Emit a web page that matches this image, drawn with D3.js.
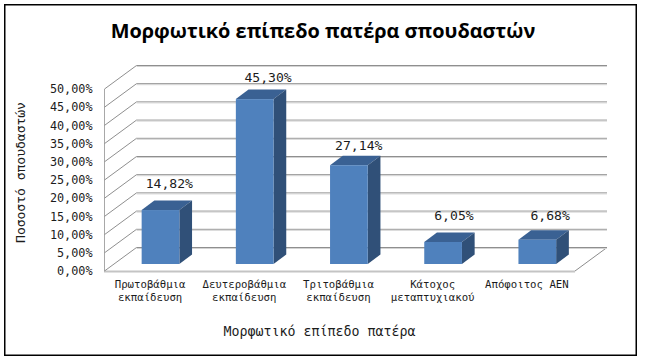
<!DOCTYPE html>
<html><head><meta charset="utf-8">
<script src="https://cdn.jsdelivr.net/npm/d3@7"></script>
<style>html,body{margin:0;padding:0;background:#fff}svg{display:block}
text{font-family:"DejaVu Sans Mono",monospace;fill:#1c1c1c}</style></head>
<body><div id="c"></div>
<script>
const categories=[["Πρωτοβάθμια","εκπαίδευση"],["Δευτεροβάθμια","εκπαίδευση"],["Τριτοβάθμια","εκπαίδευση"],["Κάτοχος","μεταπτυχιακού"],["Απόφοιτος ΑΕΝ"]];
const values=[14.82,45.30,27.14,6.05,6.68];
const valueLabels=["14,82%","45,30%","27,14%","6,05%","6,68%"];
const yTicks=[0,5,10,15,20,25,30,35,40,45,50];
const title="Μορφωτικό επίπεδο πατέρα σπουδαστών";
const xTitle="Μορφωτικό επίπεδο πατέρα";
const yTitle="Ποσοστό σπουδαστών";
// hand-placed label nudges seen in the reference
const labelNudgeX=[2.5,7,3.5,4.5,6.5];
const labelNudgeY=[-13,-8,-6,-12.5,-10.5];

const W=646,H=361;
const svg=d3.select("#c").append("svg").attr("width",W).attr("height",H);
svg.append("rect").attr("x",4.75).attr("y",4.75).attr("width",631.5).attr("height",350.5).attr("fill","#fff").attr("stroke","#000").attr("stroke-width",1.5);
svg.append("text").attr("x",323).attr("y",38).attr("text-anchor","middle")
  .style("font-family","'Open Sans'").style("font-weight",700).style("font-size","19.9px").style("fill","#000").text(title);

const y=d3.scaleLinear().domain([0,50]).range([271,89]);
const band=d3.scaleBand().domain(d3.range(categories.length)).range([104,575]);
const dx=32,dy=-23.5;
const g=svg.append("g");
g.append("line").attr("x1",104).attr("x2",575).attr("y1",y(0)+.5).attr("y2",y(0)+.5).attr("stroke","#c4c4c4").attr("stroke-width",2);
g.append("line").attr("x1",575).attr("x2",575+dx).attr("y1",y(0)).attr("y2",y(0)+dy).attr("stroke","#8c8c8c");
g.append("line").attr("x1",104.5).attr("x2",104.5).attr("y1",y(50)).attr("y2",y(0)).attr("stroke","#a8a8a8").attr("stroke-width",1);
g.selectAll(".grid").data(yTicks).join("path").attr("class","grid").attr("fill","none")
  .attr("d",t=>`M104.5,${y(t)}L${104.5+dx},${y(t)+dy}L${575+dx},${y(t)+dy}`).attr("stroke","#8f8f8f").attr("stroke-width",1);
g.selectAll(".gridS").data(yTicks).join("line").attr("class","gridS")
  .attr("x1",104.5+dx).attr("x2",575+dx).attr("y1",t=>y(t)+dy+1).attr("y2",t=>y(t)+dy+1).attr("stroke","#d4d4d4");
const ax=svg.append("g").attr("transform","translate(92.5,0)").call(d3.axisLeft(y).tickValues(yTicks).tickSize(0).tickPadding(0).tickFormat(d=>d3.format(".2f")(d).replace(".",",")+"%"));
ax.select(".domain").remove();
ax.selectAll("text").style("font-family","'DejaVu Sans Mono'").style("font-size","11.8px").style("fill","#1c1c1c");
const depthX=12.7,depthY=-9.5,offX=9.9,offY=-7;
const barW=37.7;
const bars=g.selectAll(".bar").data(values).join("g").attr("class","bar");
const bx=(d,i)=>band(i)+band.bandwidth()/2-barW/2+offX-.5;
const by=d=>y(d)+offY, by0=y(0)+offY;
bars.append("path").attr("fill","#3a6193").attr("d",(d,i)=>{const a=bx(d,i);return `M${a},${by(d)}L${a+depthX},${by(d)+depthY}L${a+barW+depthX},${by(d)+depthY}L${a+barW},${by(d)}Z`});
bars.append("path").attr("fill","#305078").attr("d",(d,i)=>{const a=bx(d,i)+barW;return `M${a},${by(d)}L${a+depthX},${by(d)+depthY}L${a+depthX},${by0+depthY}L${a},${by0}Z`});
bars.append("rect").attr("fill","#4f81bd").attr("x",bx).attr("y",by).attr("width",barW).attr("height",d=>by0-by(d));
svg.selectAll(".vl").data(values).join("text").attr("class","vl")
  .attr("x",(d,i)=>bx(d,i)+barW/2+depthX/2+labelNudgeX[i]).attr("y",(d,i)=>by(d)+depthY+labelNudgeY[i]).attr("text-anchor","middle")
  .style("font-size","13.1px").text((d,i)=>valueLabels[i]);
const cat=svg.selectAll(".cat").data(categories).join("text").attr("class","cat").attr("text-anchor","middle")
  .style("font-size","10.7px");
cat.selectAll("tspan").data((d,i)=>d.map(s=>({s,i}))).join("tspan")
  .attr("x",d=>band(d.i)+band.bandwidth()/2-1).attr("y",(d,j)=>288+j*13.3).text(d=>d.s);
svg.append("text").attr("x",319.5).attr("y",336).attr("text-anchor","middle").style("font-size","13.3px").text(xTitle);
svg.append("text").attr("transform","translate(25,172.5) rotate(-90)").attr("text-anchor","middle").style("font-size","13px").text(yTitle);
</script></body></html>
